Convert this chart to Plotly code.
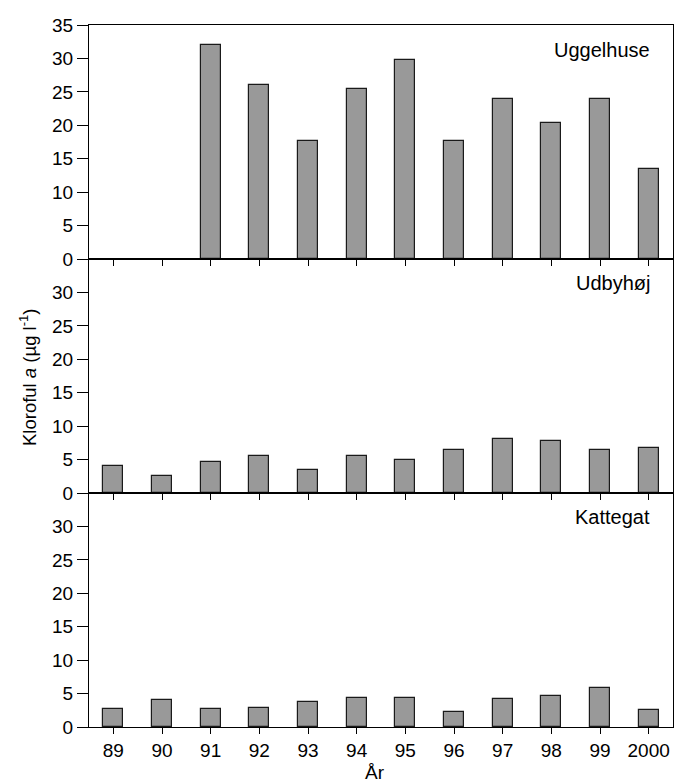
import plotly.graph_objects as go
from plotly.subplots import make_subplots

years = ["89", "90", "91", "92", "93", "94", "95", "96", "97", "98", "99", "2000"]
uggelhuse = [None, None, 32.0, 26.0, 17.6, 25.4, 29.8, 17.6, 24.0, 20.4, 23.9, 13.4]
udbyhoj = [4.0, 2.6, 4.6, 5.6, 3.5, 5.5, 4.9, 6.5, 8.1, 7.8, 6.5, 6.7]
kattegat = [2.7, 4.0, 2.7, 2.8, 3.8, 4.4, 4.4, 2.3, 4.2, 4.6, 5.9, 2.5]
panel_names = ["Uggelhuse", "Udbyhøj", "Kattegat"]
series = [uggelhuse, udbyhoj, kattegat]

FONT = "Liberation Sans, Arial, sans-serif"
FS = 19

fig = make_subplots(rows=3, cols=1, shared_xaxes=False, vertical_spacing=0)

for i, vals in enumerate(series):
    fig.add_trace(go.Bar(x=years, y=vals, width=0.41,
                         marker=dict(color="#999999", line=dict(color="#1a1a1a", width=1.2)),
                         showlegend=False), row=i + 1, col=1)

for i in range(3):
    r = i + 1
    fig.update_xaxes(row=r, col=1, type="category", categoryorder="array", categoryarray=years,
                     range=[-0.5, 11.5], showline=True, linecolor="black", linewidth=1.2, mirror=True,
                     ticks="outside", ticklen=6, tickwidth=1.2, tickcolor="black",
                     showticklabels=(r == 3), showgrid=False, zeroline=False,
                     tickfont=dict(family=FONT, size=FS, color="black"))
    tv = [0, 5, 10, 15, 20, 25, 30, 35] if r == 1 else [0, 5, 10, 15, 20, 25, 30]
    fig.update_yaxes(row=r, col=1, range=[0, 35], tickvals=tv, showline=True, linecolor="black",
                     linewidth=1.2, mirror=True, ticks="outside", ticklen=11, tickwidth=1.2,
                     tickcolor="black", showgrid=False, zeroline=False,
                     tickfont=dict(family=FONT, size=FS, color="black"))

label_y = [50, 283, 517]
for name, yy in zip(panel_names, label_y):
    fig.add_annotation(text=name, xref="paper", yref="paper", x=(652 - 89) / 584,
                       y=(727 - yy) / 702, xanchor="right", yanchor="middle", showarrow=False,
                       font=dict(family=FONT, size=20, color="black"))

fig.add_annotation(text="Kloroful <i>a</i> (µg l<sup>-1</sup>)", xref="paper", yref="paper",
                   x=(28 - 89) / 584, y=(727 - 378) / 702, textangle=-90,
                   xanchor="center", yanchor="middle", showarrow=False,
                   font=dict(family=FONT, size=18.5, color="black"))
fig.add_annotation(text="År", xref="paper", yref="paper", x=(375 - 89) / 584,
                   y=(727 - 772) / 702, xanchor="center", yanchor="middle", showarrow=False,
                   font=dict(family=FONT, size=FS, color="black"))

fig.update_layout(width=674, height=782, margin=dict(l=89, r=1, t=25, b=55),
                  plot_bgcolor="white", paper_bgcolor="white", bargap=0)

fig.write_html("out.html", config={"displayModeBar": False},
               post_script="document.body.style.margin='0';document.body.style.overflow='hidden';")
